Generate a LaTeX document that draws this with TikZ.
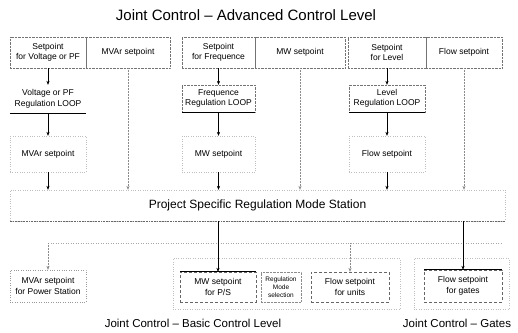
\documentclass[tikz,border=0pt]{standalone}
\usepackage{fontspec}
\setmainfont{Liberation Sans}
\usetikzlibrary{arrows.meta,calc}
\tikzset{
  cell/.style={rectangle, draw=black!55, densely dotted, align=center, inner sep=1pt,
    font=\fontsize{8.5}{10.5}\selectfont},
  faintbox/.style={rectangle, draw=black!25, dotted, align=center, inner sep=1pt,
    font=\fontsize{8.5}{10.5}\selectfont},
  lowbox/.style={rectangle, draw=black!60, densely dashed, align=center, inner sep=1pt,
    font=\fontsize{8.5}{10.5}\selectfont},
  arr/.style={-{Stealth[length=4pt,width=3.2pt]}, black, line width=0.5pt},
  farr/.style={-{Stealth[length=4pt,width=3.2pt]}, black!45, densely dotted, line width=0.5pt},
  fline/.style={black!35, dotted, line width=0.5pt},
  heavy/.style={black, line width=1.1pt},
  lbl/.style={font=\fontsize{11.5}{13}\selectfont, inner sep=0pt}
}
\begin{document}
\begin{tikzpicture}[x=1pt,y=-1pt]
\useasboundingbox (0,0) rectangle (518,332);
% title
\node[font=\fontsize{15}{17}\selectfont, inner sep=0pt] (title) at (246,15) {Joint Control -- Advanced Control Level};
% top row
\node[cell, minimum width=76pt, minimum height=31pt] (sv) at (48,52.5) {Setpoint\\for Voltage or PF};
\node[cell, minimum width=84pt, minimum height=31pt] (mv1) at (128,52.5) {MVAr setpoint};
\node[cell, minimum width=73pt, minimum height=31pt] (sf) at (218.5,52.5) {Setpoint\\for Frequence};
\node[cell, minimum width=90pt, minimum height=31pt] (mw1) at (300,52.5) {MW setpoint};
\node[cell, minimum width=78pt, minimum height=31pt] (sl) at (387,52.5) {Setpoint\\for Level};
\node[cell, minimum width=76pt, minimum height=31pt] (fl1) at (464,52.5) {Flow setpoint};
% loops
\node[cell, draw=none, minimum width=76pt, minimum height=28pt] (vl) at (48,99) {Voltage or PF\\Regulation LOOP};
\node[cell, minimum width=73pt, minimum height=27pt] (fq) at (218.5,98.5) {Frequence\\Regulation LOOP};
\node[cell, minimum width=76pt, minimum height=27pt] (lv) at (387,98.5) {Level\\Regulation LOOP};
\draw[heavy] (vl.south west) -- (vl.south east);
\draw[heavy] (fq.south west) -- (fq.south east);
\draw[heavy] (lv.south west) -- (lv.south east);
% middle setpoints
\node[faintbox, minimum width=76pt, minimum height=36pt] (mv2) at (48,154) {MVAr setpoint};
\node[faintbox, minimum width=73pt, minimum height=36pt] (mw2) at (218.5,154) {MW setpoint};
\node[faintbox, minimum width=76pt, minimum height=36pt] (fl2) at (387,154) {Flow setpoint};
% big box
\node[faintbox, minimum width=495pt, minimum height=31pt, font=\fontsize{12}{14}\selectfont] (ps) at (257.5,205.5) {Project Specific Regulation Mode Station};
\draw[black!60, densely dotted, line width=0.6pt] (ps.south west) -- (ps.south east);
% arrows top part
\draw[arr] (sv.south) -- (vl.north);
\draw[arr] (sf.south) -- (fq.north);
\draw[arr] (sl.south) -- (lv.north);
\draw[arr] (vl.south) -- (mv2.north);
\draw[arr] (fq.south) -- (mw2.north);
\draw[arr] (lv.south) -- (fl2.north);
\draw[arr] (mv2.south) -- (mv2.south |- ps.north);
\draw[arr] (mw2.south) -- (mw2.south |- ps.north);
\draw[arr] (fl2.south) -- (fl2.south |- ps.north);
\draw[farr] (mv1.south) -- (mv1.south |- ps.north);
\draw[farr] (mw1.south) -- (mw1.south |- ps.north);
\draw[farr] (fl1.south) -- (fl1.south |- ps.north);
% bottom groups
\node[faintbox, minimum width=227pt, minimum height=51pt] (grp) at (286.5,283.5) {};
\node[faintbox, minimum width=95pt, minimum height=51pt] (grpg) at (461.5,283.5) {};
% bottom boxes
\node[lowbox, draw=black!40, dotted, minimum width=76pt, minimum height=32pt] (mvps) at (48,286) {MVAr setpoint\\for Power Station};
\node[lowbox, minimum width=76pt, minimum height=30pt] (mwps) at (218,287) {MW setpoint\\for P/S};
\node[lowbox, draw=black!45, densely dotted, minimum width=40pt, minimum height=30pt, font=\fontsize{6.5}{8}\selectfont] (rms) at (281,287) {Regulation\\Mode\\selection};
\node[lowbox, minimum width=78pt, minimum height=30pt] (flu) at (350,287) {Flow setpoint\\for units};
\node[lowbox, minimum width=78pt, minimum height=32pt] (flg) at (463,286) {Flow setpoint\\for gates};
\draw[black, line width=0.7pt] (mwps.north west) -- (mwps.north east);
\draw[black, line width=0.7pt] (flg.north west) -- (flg.north east);
% bottom connectors
\coordinate (ha) at (48,243);
\coordinate (hb) at (350,243);
\coordinate (hc) at (501,243);
\draw[fline] (ha) -- (hb) -- (hc);
\draw[arr] (ps.south -| mwps.north) -- (mwps.north);
\draw[arr] (ps.south -| flg.north) -- (flg.north);
\draw[farr] (ha) -- (mvps.north);
\draw[farr] (hb) -- (flu.north);
% labels
\node[lbl] (lb1) at (193,323) {Joint Control -- Basic Control Level};
\node[lbl] (lb2) at (457,323) {Joint Control -- Gates};
\end{tikzpicture}
\end{document}
